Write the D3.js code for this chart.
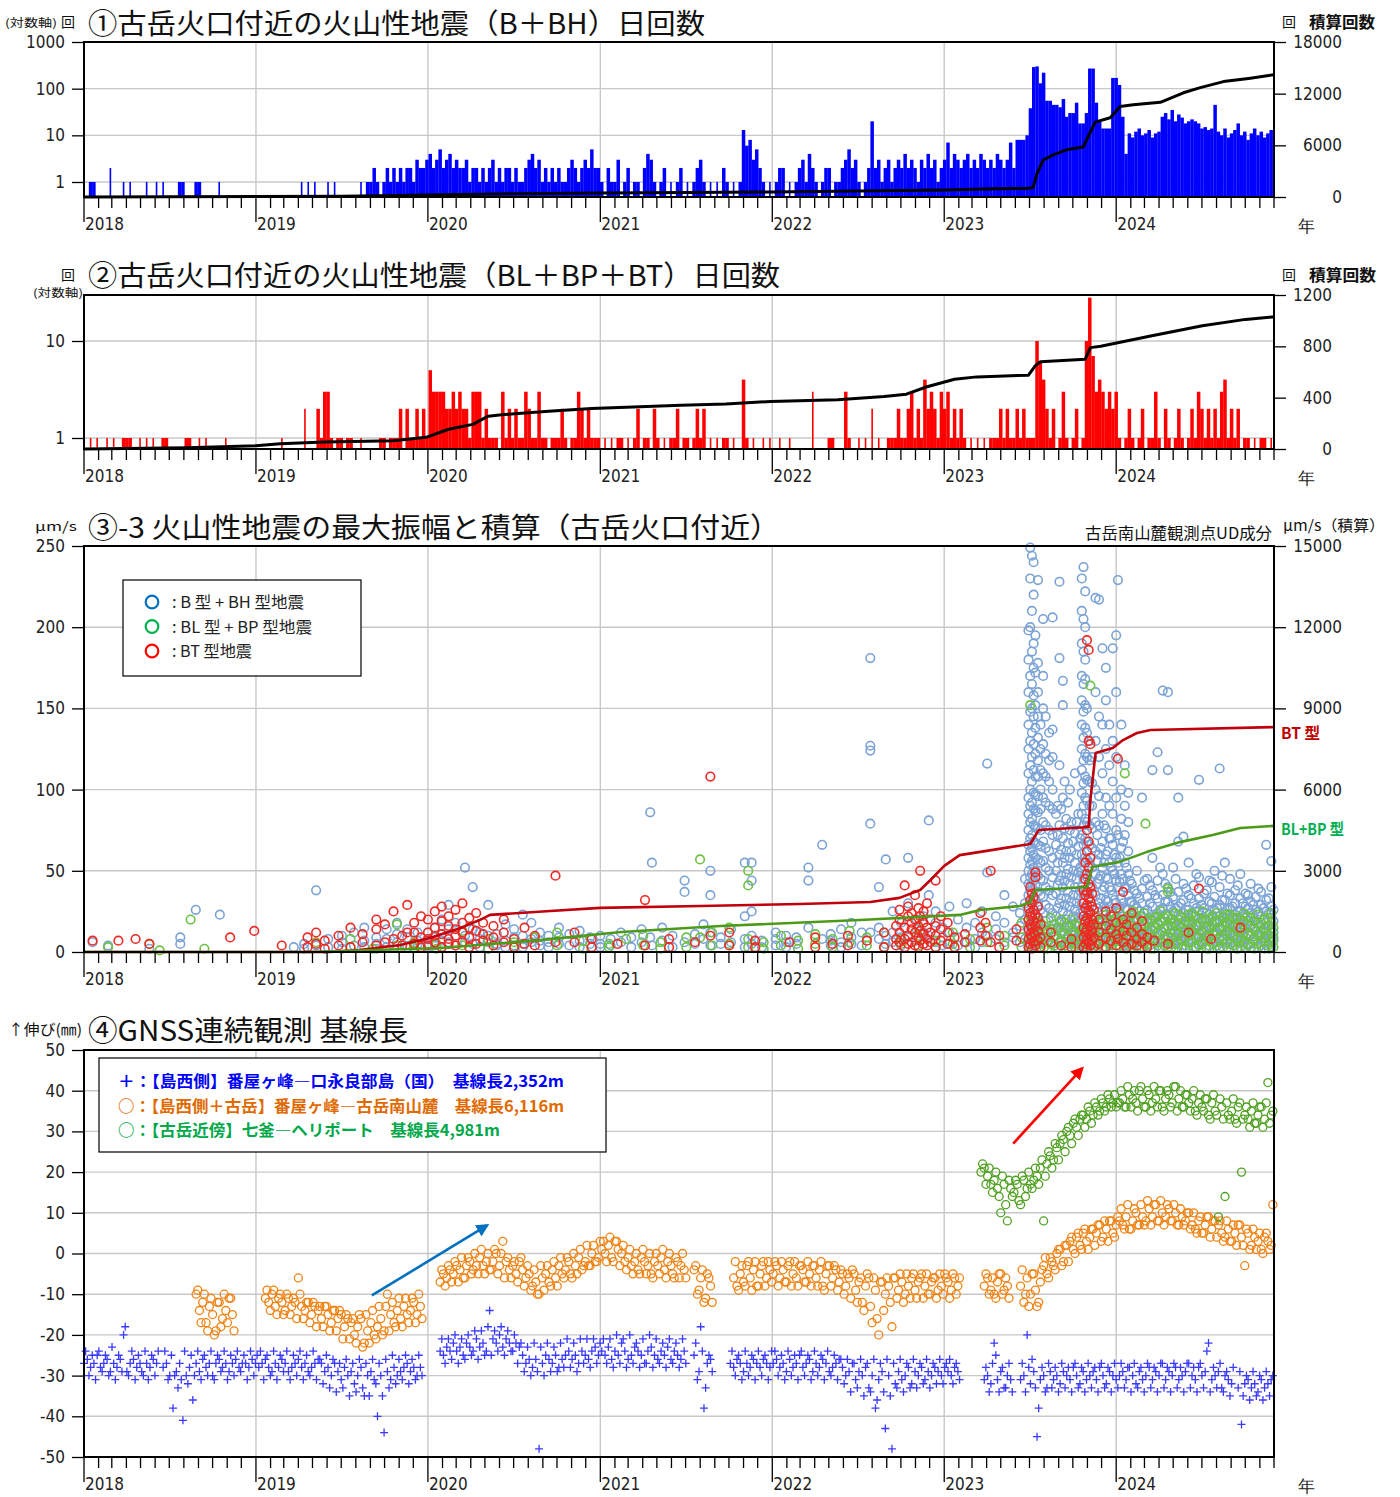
<!DOCTYPE html>
<html>
<head>
<meta charset="utf-8">
<title>古岳火口付近の火山性地震</title>
<script src="https://d3js.org/d3.v7.min.js"></script>
<style>
  body { margin: 0; background: #fff; }
  text { font-family: "Noto Sans CJK JP", sans-serif; }
  .tk, .tk text { font-family: "Liberation Sans Narrow", "DejaVu Sans Condensed", "Noto Sans", sans-serif; font-size: 17px; fill: #222; }
</style>
</head>
<body>
<div id="chart"></div>
<script>
// ---------------- data ----------------
var years = [2018, 2019, 2020, 2021, 2022, 2023, 2024];

// ① B+BH daily count (max of each week, weeks from 2018-01-01)
var bCount = [
  0,0,1,1,0,0,0,0,2,0,  0,0,1,0,1,0,0,0,0,1,  0,0,1,0,1,0,0,0,0,1,  1,0,0,0,1,1,0,0,0,0,
  0,1,0,0,0,0,0,0,0,0,  0,0,0,0,0,0,0,0,0,0,  0,0,0,0,0,0,1,0,1,0,  1,0,0,0,1,0,1,0,0,0,
  0,0,0,0,1,0,1,1,2,1,  0,1,2,1,2,1,2,1,2,2,  1,3,2,2,3,4,2,3,5,2,  3,4,2,3,2,2,3,1,2,2,
  1,2,1,2,3,1,2,1,2,2,  1,2,1,1,2,3,4,2,3,1,  2,1,2,1,2,1,1,2,3,2,  1,2,3,2,5,2,2,1,0,2,
  1,1,3,0,1,2,0,1,1,0,  2,4,3,1,0,1,2,0,1,0,  1,2,0,1,0,1,2,3,1,0,  1,0,1,0,2,1,0,1,0,1,
  13,6,8,3,5,2,1,0,1,0, 1,2,2,0,1,0,1,2,3,1,  4,2,1,0,1,2,2,0,1,1,  2,3,5,2,3,1,0,1,2,20,
  2,3,1,2,3,1,2,3,2,4,  2,3,2,1,3,2,4,2,3,1,  2,3,7,2,4,3,2,3,4,2,  3,2,4,3,2,3,2,4,3,2,
  3,7,2,8,8,8,10,38,290,300,  130,220,55,55,45,45,40,60,25,30,  30,50,18,18,30,270,270,50,20,14,
  14,14,170,170,120,25,4,11,9,12,  14,10,11,13,9,11,12,25,30,22,  35,20,28,24,18,20,22,20,18,14,
  15,13,14,45,12,10,14,9,11,13,  18,10,12,8,11,14,10,12,9,11,  13
];
// ① cumulative [decimal year, count]
var bCum = [[2018.0,0],[2019.0,50],[2019.5,100],[2020.0,230],[2020.5,380],[2021.0,460],[2021.5,520],
  [2022.0,580],[2022.5,700],[2023.0,810],[2023.3,950],[2023.48,1000],[2023.517,1100],[2023.541,2800],
  [2023.576,4300],[2023.634,4900],[2023.715,5500],[2023.808,5800],[2023.837,7000],[2023.878,8700],
  [2023.965,9200],[2024.023,10500],[2024.099,10700],[2024.256,11000],[2024.39,12100],[2024.488,12700],
  [2024.622,13400],[2024.779,13800],[2024.913,14200]];
var logTicks1 = [1, 10, 100, 1000];
var cumTicks1 = [0, 6000, 12000, 18000];

// ② BL+BP+BT daily count (max of each week)
var lCount = [
  0,0,1,0,1,0,0,1,0,1,  0,0,1,1,1,0,0,1,0,1,  0,1,0,0,1,1,0,0,0,0,  0,1,1,0,0,1,0,1,0,0,
  0,0,0,1,0,0,0,0,0,0,  0,0,0,0,0,0,0,0,0,0,  1,0,0,0,0,0,0,2,0,0,  0,2,1,3,3,1,0,1,1,0,
  1,1,0,0,1,0,0,0,0,0,  1,1,0,1,1,1,2,0,2,1,  1,2,1,2,1,5,3,3,3,3,  2,2,3,2,3,2,2,1,3,3,
  3,1,2,1,1,1,0,3,1,2,  1,2,1,1,3,2,1,1,3,1,  1,0,1,1,1,2,1,0,1,1,  3,2,1,2,1,1,1,0,1,0,
  1,0,1,1,0,1,0,1,2,0,  1,1,0,2,1,0,1,0,1,1,  2,0,1,1,0,1,2,1,2,0,  1,0,1,0,1,1,0,1,0,0,
  4,1,0,1,0,0,1,0,1,0,  0,1,0,0,1,0,0,0,0,0,  0,3,0,0,0,0,1,1,0,0,  0,3,1,0,0,1,0,1,0,2,
  0,1,0,0,1,1,1,2,1,1,  2,3,1,2,1,4,2,3,2,1,  3,2,3,1,2,1,2,1,0,1,  0,1,0,1,0,1,1,1,2,1,
  2,1,1,2,1,2,1,1,1,10, 6,4,2,1,2,0,1,3,1,0,  1,2,0,1,10,28,7,3,4,3,  2,3,2,3,1,0,1,2,1,0,
  1,2,0,1,1,3,1,0,2,1,  0,1,2,1,0,1,2,1,3,2,  1,2,1,2,1,3,4,1,2,1,  2,0,1,1,0,1,0,1,1,0,  1
];
var lCum = [[2018.0,0],[2018.6,10],[2019.0,25],[2019.14,40],[2019.4,55],[2019.8,65],[2019.99,91],
  [2020.12,154],[2020.26,192],[2020.35,256],[2020.44,268],[2020.7,294],[2020.95,315],[2021.47,340],
  [2021.73,351],[2021.99,371],[2022.38,383],[2022.65,409],[2022.78,427],[2022.9,485],[2023.06,544],
  [2023.19,562],[2023.49,575],[2023.53,650],[2023.56,680],[2023.82,700],[2023.85,790],[2023.91,800],
  [2024.2,880],[2024.5,960],[2024.75,1010],[2024.917,1030]];
var logTicks2 = [1, 10];
var cumTicks2 = [0, 400, 800, 1200];

// ③-3 maximum amplitude [decimal year, [amplitudes µm/s]]
var ampB = [
  [2018.05,[6]],[2018.14,[4]],[2018.38,[2]],[2018.56,[9,5]],[2018.65,[26]],[2018.79,[23]],
  [2019.22,[3]],[2019.28,[2,5]],[2019.35,[38,4]],[2019.42,[3,8]],[2019.5,[6,2,10]],[2019.57,[4,12]],
  [2019.63,[3,7,15]],[2019.7,[5,9,2]],[2019.76,[8,14,3]],[2019.82,[6,11,4,18]],[2019.88,[3,9,14]],[2019.94,[5,12,7]],
  [2020.0,[5,12,8,3]],[2020.04,[9,15,4]],[2020.08,[7,20,3,11]],[2020.12,[29,6,14]],[2020.16,[4,10,18]],
  [2020.215,[52,10,6]],[2020.26,[40,14,5]],[2020.3,[8,3,12]],[2020.35,[6,29,10,2]],[2020.4,[5,11,4]],
  [2020.45,[7,17,3]],[2020.5,[9,4,14]],[2020.55,[5,10,3,23]],[2020.6,[8,18,6]],[2020.65,[4,12,7]],
  [2020.7,[6,3,10]],[2020.76,[9,5,15]],[2020.82,[4,11]],[2020.88,[7,3,13]],[2020.94,[5,9]],
  [2021.0,[5,10,3]],[2021.06,[8,4]],[2021.12,[12,6]],[2021.18,[3,9]],[2021.24,[6,14]],[2021.29,[86,9]],
  [2021.3,[55,4]],[2021.36,[7,15]],[2021.42,[10,3]],[2021.49,[44,6,37]],[2021.55,[5,11]],[2021.6,[8,17]],
  [2021.64,[50,35,12,4]],[2021.7,[9,5]],[2021.76,[6,14]],[2021.84,[55,22,8,3]],[2021.88,[55,44,25,10,5]],[2021.94,[7,3]],
  [2022.02,[8,4,12]],[2022.08,[6,10,3]],[2022.14,[9,5]],[2022.21,[52,44,15]],[2022.29,[66,8]],[2022.34,[11,4,7]],
  [2022.4,[6,14,3]],[2022.46,[9,18,5]],[2022.52,[4,12]],[2022.57,[181,127,124,79,12]],[2022.62,[40,8,15]],
  [2022.66,[57,10,5]],[2022.7,[25,6,12]],[2022.75,[18,4,9]],[2022.79,[58,30,9]],[2022.84,[20,7,14]],
  [2022.88,[12,5,22]],[2022.91,[81,35,10]],[2022.95,[18,6,25]],[2022.99,[9,15,4]],
  [2023.03,[12,28,5]],[2023.08,[9,20,4]],[2023.13,[15,6,30]],[2023.18,[8,18,3]],[2023.22,[12,25,6]],
  [2023.25,[116,49,10]],[2023.3,[22,8,14]],[2023.35,[18,35,6]],[2023.4,[12,28,9]],[2023.44,[6,16,24]],[2023.47,[20,45,8,30]],
  [2023.49,[5,12,20,28,35,42,50,58,66,75,85,95,110,125,140,160,180,198]],
  [2023.50,[3,9,16,24,31,38,46,54,62,70,80,90,100,115,130,148,170,200,230,249]],
  [2023.51,[6,14,22,30,40,48,56,64,72,82,92,105,120,135,150,165,185,210,244]],
  [2023.52,[4,11,18,26,33,44,52,60,68,78,88,98,112,128,145,158,175,190,220,240]],
  [2023.53,[7,15,23,32,41,50,58,67,77,87,97,108,122,138,152,172,195]],
  [2023.545,[5,13,21,29,37,47,57,66,76,86,96,108,118,132,145,160,178,229]],
  [2023.56,[8,17,26,35,45,55,65,75,88,100,112,125,140]],
  [2023.575,[6,14,24,34,44,56,68,80,95,110,128,150,170,205]],
  [2023.59,[9,19,29,40,52,64,78,92,108,122,145]],
  [2023.61,[7,16,27,38,50,62,75,90,105,118,135]],
  [2023.63,[5,14,24,35,46,58,72,88,100,120,206,137]],
  [2023.65,[10,22,36,50,66,85]],[2023.66,[3,14,27,41,55,72,90]],[2023.67,[6,18,30,44,60,78,115,228,181]],
  [2023.68,[8,19,33,47,63,88]],[2023.69,[12,25,40,55,70,95,167,152]],[2023.70,[4,15,29,44,58,76,105]],
  [2023.71,[8,20,33,48,62,82]],[2023.72,[10,23,37,51,67,92]],[2023.73,[5,16,28,42,58,75,100]],
  [2023.74,[6,17,31,46,62,80]],[2023.75,[10,22,35,50,68]],[2023.76,[3,13,26,40,55,73,110]],
  [2023.77,[7,18,30,45,60,80]],[2023.78,[9,21,35,49,65,85]],[2023.79,[12,24,38,52,70]],
  [2023.80,[4,12,20,30,40,50,60,72,85,98,112,125,140,155,170,190,210,230]],
  [2023.81,[6,15,25,35,45,55,66,78,90,104,118,132,148,165,185,205,237]],
  [2023.82,[3,10,18,27,38,48,58,70,82,95,108,122,138,152,168,180,200,222]],
  [2023.83,[7,16,26,36,46,57,68,80,93,106,120,135,150]],
  [2023.845,[5,14,24,34,44,55,66,78,90,105,118,130]],
  [2023.86,[8,18,28,40,52,64,76,90,104,120]],
  [2023.88,[10,22,35,48,62,80,100,130,160,218]],[2023.89,[4,16,27,42,56,72]],
  [2023.90,[6,18,30,45,60,78,96,120,145,217]],[2023.91,[9,21,33,47,64]],
  [2023.92,[12,25,38,52,68,85,110,140,187]],[2023.93,[3,15,28,40,55,78]],
  [2023.94,[8,20,32,46,60,76,95,125,155,175]],[2023.95,[7,19,31,45,62]],
  [2023.96,[5,15,28,40,55,70,90,115,140]],[2023.97,[4,13,25,38,52,70]],
  [2023.98,[10,22,35,50,66,85,105,130,187]],[2023.99,[9,20,32,48,60]],
  [2024.0,[7,18,30,44,58,75,95,120,160,195]],[2024.01,[12,26,40,55,72,229]],[2024.02,[3,15,27,43,58]],
  [2024.03,[8,20,33,48,64,82,100,140]],[2024.04,[7,18,30,45,68]],[2024.05,[5,15,27,40,55,72,90,115]],
  [2024.06,[4,14,26,39,52]],[2024.07,[10,22,35,48,62,80,98]],[2024.08,[8,19,31,44]],
  [2024.09,[4,10,16,23,31,42]],[2024.105,[8,14,21,29,38]],[2024.12,[6,12,19,27,36,50]],[2024.135,[2,7,13,25,33]],
  [2024.15,[3,9,15,22,30,39,95]],[2024.165,[9,17,24,44]],[2024.18,[5,11,18,26,34,45]],[2024.195,[4,12,20,30,41]],
  [2024.21,[7,13,20,28,38,58,112]],[2024.225,[6,15,22,35]],[2024.24,[4,10,17,24,33,44,123]],[2024.255,[3,11,19,26,52]],
  [2024.27,[6,12,19,27,35,48,161]],[2024.285,[8,14,23,31,42]],[2024.30,[3,9,16,23,31,40,112,160]],[2024.315,[5,12,20,28,37]],
  [2024.33,[5,11,18,25,34,52]],[2024.345,[2,9,16,27,45]],[2024.36,[7,13,20,28,37,95,68]],[2024.375,[7,15,22,30]],
  [2024.39,[4,10,17,24,32,42,71]],[2024.405,[4,11,18,26,39]],[2024.42,[6,12,19,26,35,55]],[2024.435,[8,14,23,33]],
  [2024.45,[3,9,15,22,30,41]],[2024.465,[3,10,17,27,48]],[2024.48,[5,11,18,25,33,106,46]],[2024.495,[6,13,21,29]],
  [2024.51,[7,13,20,27,36]],[2024.525,[2,9,16,24,38]],[2024.54,[4,10,16,23,31,44]],[2024.555,[7,15,22,30,43]],
  [2024.57,[6,12,19,26,34,50]],[2024.585,[4,11,19,27]],[2024.60,[3,9,15,22,29,113,40]],[2024.615,[8,14,21,32,47]],
  [2024.63,[5,11,17,24,32,55]],[2024.645,[3,10,18,26,36]],[2024.66,[7,13,20,27,35,45]],[2024.675,[6,12,20,28]],
  [2024.69,[4,10,16,23,30,38]],[2024.705,[2,9,17,25,41]],[2024.72,[6,12,18,25,33,48]],[2024.735,[7,14,22,30]],
  [2024.75,[3,9,15,21,28,36]],[2024.765,[4,11,19,27,35]],[2024.78,[5,11,17,24,31,42]],[2024.795,[8,15,23,29]],
  [2024.81,[7,13,19,26,34]],[2024.825,[3,10,17,25,39]],[2024.84,[4,10,16,22,29,37]],[2024.855,[6,13,20,27]],
  [2024.87,[6,12,18,25,66,32]],[2024.885,[2,8,16,24,33]],[2024.90,[3,9,15,21,28,40,56]],[2024.912,[7,12,19,26]]
];
var ampL = [
  [2018.14,[3]],[2018.38,[5]],[2018.44,[1]],[2018.62,[20]],[2018.7,[2]],
  [2019.35,[6]],[2019.55,[3,8]],[2019.68,[2]],[2019.82,[17,4]],[2019.92,[3,6]],
  [2020.05,[2,5]],[2020.2,[13,4]],[2020.35,[8,2]],[2020.5,[3,6]],[2020.62,[9]],[2020.75,[4,12]],[2020.9,[2,7]],
  [2021.05,[5,3]],[2021.15,[8]],[2021.25,[4,10]],[2021.35,[6,2]],[2021.5,[9,3]],[2021.58,[57,9]],
  [2021.65,[12,4]],[2021.75,[5,15]],[2021.86,[41,50,8,3]],[2021.95,[6,2]],
  [2022.05,[4,10]],[2022.15,[7,2]],[2022.25,[11,5]],[2022.35,[3,8]],[2022.45,[6,13]],[2022.55,[4,9]],
  [2022.65,[12,3]],[2022.75,[5,8]],[2022.85,[10,4,15]],[2022.95,[7,3]],
  [2023.05,[5,12]],[2023.15,[8,3]],[2023.25,[15,6]],[2023.35,[4,10]],[2023.45,[9,18,3]],
  [2023.5,[152,22]],[2023.85,[164]],[2024.05,[110]],[2024.17,[79]],[2024.3,[39,37]],
  [2023.52,[3,8,14]],[2023.54,[6,12,19]],[2023.56,[5,11,18]],[2023.58,[3,9,16]],[2023.60,[2,7,13]],
  [2023.62,[5,14,21]],[2023.64,[4,10,17]],[2023.66,[2,8,15]],[2023.68,[6,12,20]],[2023.70,[4,11,18]],
  [2023.72,[3,9,16]],[2023.74,[7,13,20]],[2023.76,[5,11,17]],[2023.78,[3,10,16]],[2023.80,[2,8,13]],
  [2023.82,[5,12,19]],[2023.84,[6,12,19]],[2023.86,[2,9,17]],[2023.88,[4,10,15,22]],[2023.90,[6,13,19]],
  [2023.92,[3,9,14,20]],[2023.94,[3,8,16,23]],[2023.96,[5,12,17]],[2023.98,[5,12,19]],[2024.00,[2,8,14,21]],
  [2024.02,[4,10,17,24]],[2024.04,[6,11,18]],[2024.06,[2,9,15,21]],[2024.08,[4,10,16,23]],[2024.10,[6,12,19,25]],
  [2024.12,[3,8,15,20]],[2024.14,[3,10,16,22]],[2024.16,[5,11,17,24]],[2024.18,[5,13,20]],[2024.20,[2,9,14,19]],
  [2024.22,[2,8,15,21]],[2024.24,[6,12,18,22]],[2024.26,[6,13,19,25]],[2024.28,[4,10,15,21]],[2024.30,[3,9,16,22]],
  [2024.32,[3,9,16,20]],[2024.34,[5,12,18,24]],[2024.36,[5,11,17,23]],[2024.38,[2,8,15,21]],[2024.40,[2,8,13,19]],
  [2024.42,[6,11,17,23]],[2024.44,[6,12,18,24]],[2024.46,[3,10,16,22]],[2024.48,[4,9,16,21]],[2024.50,[5,12,19,25]],
  [2024.52,[3,10,15,20]],[2024.54,[2,9,14,20]],[2024.56,[5,11,17,22]],[2024.58,[6,13,19,24]],[2024.60,[2,8,14,19]],
  [2024.62,[3,10,16,22]],[2024.64,[6,13,18,23]],[2024.66,[5,11,17,23]],[2024.68,[4,10,16,21]],[2024.70,[2,8,15,21]],
  [2024.72,[3,9,15,20]],[2024.74,[6,12,19,24]],[2024.76,[5,11,17,22]],[2024.78,[3,10,16,21]],[2024.80,[2,8,14,19]],
  [2024.82,[5,11,18,23]],[2024.84,[6,12,18]],[2024.86,[2,9,15,20]],[2024.88,[4,10,16,21]],[2024.90,[6,12,18,24]],[2024.912,[3,9,15]]
];
var ampT = [
  [2018.05,[7]],[2018.2,[7]],[2018.3,[8]],[2018.38,[5]],[2018.85,[9]],[2018.99,[13]],[2019.15,[4]],
  [2019.3,[3,9]],[2019.35,[12,5]],[2019.4,[7,2]],[2019.48,[10,4]],[2019.55,[3,15]],[2019.62,[6,11]],
  [2019.7,[14,4,20]],[2019.75,[17,6]],[2019.8,[8,25]],[2019.85,[10,4]],[2019.88,[29,12]],[2019.92,[5,18,12]],[2019.96,[9,22,3]],
  [2020.0,[4,12,20,8]],[2020.04,[15,6,25,10]],[2020.08,[3,11,19,28]],[2020.12,[8,16,5,22]],[2020.16,[10,26,4,14]],
  [2020.2,[6,18,12,30]],[2020.24,[9,3,21,15]],[2020.28,[5,13,24]],[2020.32,[11,7,18]],[2020.38,[4,16,9]],
  [2020.44,[12,6,20]],[2020.5,[8,3]],[2020.56,[15,5]],[2020.62,[10,4]],[2020.74,[47,6]],[2020.85,[6,12]],[2020.95,[3,8]],
  [2021.1,[5]],[2021.26,[32,4]],[2021.4,[8,3]],[2021.55,[6]],[2021.64,[108,10]],[2021.75,[4,12]],[2021.9,[7,3]],
  [2022.1,[6]],[2022.25,[9,3]],[2022.35,[5]],[2022.44,[10,4]],[2022.55,[7]],[2022.65,[12,3]],
  [2022.72,[8,16,4]],[2022.74,[12,20,6,26]],[2022.77,[41,15,8,3]],[2022.79,[22,10,28,5]],[2022.81,[14,6,18,24]],
  [2022.83,[35,12,4,20]],[2022.85,[9,16,27,3]],[2022.86,[50,13,7,22]],[2022.88,[18,5,25,11]],[2022.9,[8,15,30,4]],
  [2022.92,[12,20,6]],[2022.95,[44,10,16,3]],[2022.98,[7,14,22]],[2023.02,[5,12,18]],[2023.06,[9,3]],
  [2023.12,[6,11]],[2023.21,[7,15,24]],[2023.24,[10,18]],[2023.27,[50,6]],[2023.32,[10,3]],[2023.42,[7,14]],
  [2023.49,[3,8,14,20,27]],[2023.5,[5,11,17,24,32,40]],[2023.51,[2,9,15,22,30,36]],[2023.52,[6,12,19,26,34]],
  [2023.53,[4,10,16,23,49,46]],[2023.545,[7,13,21,28]],[2023.56,[3,9,17]],
  [2023.62,[6,12]],[2023.68,[4]],[2023.74,[8,3]],
  [2023.81,[3,9,15,22,30,38]],[2023.82,[5,12,19,27,35,45,55]],[2023.83,[2,8,14,21,29,37,48,62,75,192]],
  [2023.84,[6,11,18,25,33,42,52,68,130,186]],[2023.85,[4,10,16,24,31,40,58,128]],[2023.86,[7,13,20,28,36]],[2023.87,[3,9,17,26]],
  [2023.9,[5,12,20]],[2023.94,[3,9,16,25]],[2023.97,[7,14,22]],[2024.0,[4,11,18,27]],[2024.01,[119,8]],
  [2024.04,[6,13,20,37]],[2024.06,[3,10,17]],[2024.09,[5,12,24]],[2024.12,[8,15,4]],[2024.15,[6,11,19]],
  [2024.18,[3,9]],[2024.22,[7]],[2024.3,[5]],[2024.42,[12]],[2024.48,[39]],[2024.55,[8]],[2024.72,[15]]
];
// ③-3 cumulative amplitude [decimal year, µm/s]
var cumT = [[2018.0,0],[2019.43,0],[2019.6,74],[2019.84,260],[2020.01,520],[2020.19,890],[2020.3,1180],
  [2020.36,1370],[2020.71,1515],[2021.0,1630],[2021.58,1700],[2022.16,1775],[2022.57,1850],[2022.74,2000],
  [2022.86,2290],[2022.92,2660],[2023.0,3180],[2023.09,3580],[2023.21,3700],[2023.5,3990],[2023.55,4510],
  [2023.84,4620],[2023.85,5620],[2023.88,7350],[2023.98,7540],[2024.04,7830],[2024.12,8090],[2024.2,8200],[2024.917,8310]];
var cumL = [[2018.0,0],[2019.31,0],[2020.07,150],[2020.65,440],[2021.12,740],[2021.7,960],[2022.51,1180],
  [2023.09,1370],[2023.21,1550],[2023.44,1700],[2023.5,1850],[2023.53,2290],[2023.83,2400],[2023.86,3140],
  [2024.02,3330],[2024.18,3700],[2024.37,4060],[2024.56,4320],[2024.72,4580],[2024.917,4660]];
var ampTicks = [0, 50, 100, 150, 200, 250];
var ampCumTicks = [0, 3000, 6000, 9000, 12000, 15000];

// ④ GNSS baseline change (mm), two readings per week: [first week index, values]
var gnssBlue = [
  [0, [-27,-26,-28,-27,-25,-28,-27,-26,-29,-27,-28,-26,-20,-29,-27,-26,-28,-27,-30,-27,-28,-26,-27]],
  [24, [-28,-27,-30,-38,-29,-27,-41,-30,-28,-36,-27,-29,-26,-28,-27,-30,-27,-26,-28,-27,-29,-27,-26,-28,-27,-27,-28,-26,-27]],
  [53, [-28,-27,-26,-28,-29,-27,-28,-26,-27,-29,-28,-27,-26,-28,-27,-29,-28,-27,-26,-27,-29,-28,-30,-27,-29,
        -31,-28,-30,-29,-32,-30,-28,-35,-30,-29,-31,-40,-30,-44,-29,-31,-28,-30,-29,-28,-27,-29,-28,-30,-28]],
  [108, [-24,-25,-23,-24,-22,-24,-23,-25,-22,-23,-24,-21,-23,-22,-24,-14,-21,-22,-20,-23,-21,-22,-24,-22,-23,
         -25,-27,-26,-28,-26,-48,-27,-25,-26,-27,-25,-28,-26,-25,-24,-26,-25,-27,-24,-25,-26,-24,-23,-25]],
  [157, [-24,-25,-23,-26,-24,-25,-22,-24,-26,-25,-23,-24,-25,-27,-24,-23,-25,-26,-24,-25,-23,-26,-24,-25,-26,-24]],
  [185, [-25,-31,-18,-38,-27,-26]],
  [196, [-27,-28,-26,-27,-29,-27,-28,-26,-27,-28,-26,-27,-28]],
  [209, [-27,-26,-28,-27,-29,-26,-28,-27,-25,-28,-27,-26,-29,-27,-28,-26,-27,-29,-28,-27,-26,-28,-30,-29,-27,
         -31,-29,-30,-28,-33,-30,-38,-31,-29,-43,-30,-48,-32,-29,-31,-30,-28,-32,-29,-30,-28,-31,-29,-30,-28,-29,-30,-28]],
  [262, [-29,-30,-28,-29]],
  [273, [-31,-30,-32,-22,-31,-29,-33,-30,-31]],
  [284, [-31,-30,-20,-32,-29,-45,-31,-30,-33,-29,-31,-30,-32,-29,-30,-31,-28,-30,-32,-29,-31,-30,-29,-31,-28,-30,-32,-29,-30,-31]],
  [314, [-30,-29,-31,-28,-30,-32,-29,-31,-30,-28,-31,-29,-30,-27,-31,-29,-30,-28,-31,-30,-29,-27,-30,-31,-28,
         -30,-29,-22,-31,-30,-29,-33,-30,-31,-32]],
  [350, [-33,-42,-32,-31,-33,-32,-34,-31,-33,-32,-31]]
];
var gnssBlueMid = [
  [0, [-24,-30,-25,-31,-24,-29,-25,-30,-23,-31,-25,-29,-18,-30,-24,-31,-25,-29,-24,-31,-25,-30,-24]],
  [24, [-24,-31,-25,-30,-33,-31,-24,-32,-25,-30,-24,-31,-25,-30,-24,-31,-25,-29,-24,-31,-25,-30,-24,-29,-25,-31,-24,-30,-25]],
  [53, [-24,-31,-25,-30,-24,-31,-25,-29,-24,-31,-25,-30,-24,-31,-25,-30,-24,-31,-26,-32,-25,-33,-26,-34,-27,
        -33,-26,-35,-27,-34,-26,-33,-27,-35,-26,-32,-27,-35,-26,-33,-25,-32,-26,-31,-25,-32,-26,-31,-25,-30]],
  [108, [-21,-27,-21,-26,-20,-27,-21,-26,-20,-25,-19,-26,-19,-25,-18,-25,-19,-24,-18,-25,-19,-24,-20,-27,-22,
         -29,-23,-30,-22,-29,-23,-30,-22,-29,-23,-29,-22,-28,-21,-28,-22,-29,-21,-27,-21,-28,-21,-27,-22]],
  [157, [-21,-27,-21,-28,-20,-27,-21,-28,-20,-27,-22,-28,-21,-27,-20,-28,-21,-27,-22,-28,-21,-27,-22,-28,-21,-27]],
  [185, [-22,-29,-24,-33,-25,-29]],
  [196, [-24,-30,-25,-31,-24,-30,-25,-31,-24,-30,-25,-31,-24]],
  [209, [-24,-30,-25,-31,-24,-30,-25,-31,-24,-30,-25,-31,-24,-30,-25,-31,-24,-30,-25,-31,-26,-32,-26,-34,-27,
         -33,-26,-35,-27,-34,-26,-36,-27,-34,-26,-35,-27,-33,-26,-34,-27,-33,-26,-33,-27,-32,-26,-33,-27,-32,-26,-32,-27]],
  [262, [-26,-32,-27,-31]],
  [273, [-28,-34,-27,-25,-34,-28,-33,-27,-34]],
  [284, [-27,-34,-28,-26,-33,-38,-28,-34,-27,-33,-28,-34,-27,-33,-28,-34,-27,-33,-28,-34,-27,-33,-28,-34,-27,-33,-28,-34,-27,-33]],
  [314, [-27,-33,-28,-34,-27,-33,-28,-34,-27,-33,-28,-34,-27,-33,-28,-34,-27,-33,-28,-34,-27,-33,-28,-34,-27,
         -33,-24,-34,-28,-33,-27,-34,-29,-35,-28]],
  [350, [-29,-35,-30,-36,-29,-35,-30,-36,-29,-35,-30]]
];
var gnssOrange = [
  [34, [-10,-14,-12,-17,-13,-15,-19,-12,-16,-14,-11,-15]],
  [55, [-11,-12,-10,-13,-11,-12,-14,-11,-13,-12,-6,-13,-14,-12,-15,-13,-14,-16,-13,-15,-17,-14,-16,-15,-18,
        -16,-17,-20,-18,-16,-22,-19,-17,-20,-18,-16,-19,-10,-15,-17,-14,-16,-13,-15,-14,-12,-15,-13]],
  [108, [-7,-5,-6,-4,-5,-3,-4,-6,-3,-2,-4,-3,-1,-3,-2,-4,-2,0,-3,3,-2,-4,-3,-5,-2,-4,-6,-5,-8,-7,
         -10,-6,-5,-7,-4,-6,-3,-5,-4,-2,-6,-3,-1,-4,-2,-3,0,-2,-1]],
  [157, [1,0,2,-1,3,1,0,-2,-1,-3,-2,-4,-1,-2,-3,-5,-2,-3,-1,-4,-2,-3,-6,-2,-3,-4]],
  [185, [-4,-10,-6,-12,-5,-8]],
  [197, [-6,-8,-5,-7,-3,-6,-4,-8,-5,-2,-6,-4]],
  [209, [-5,-3,-6,-4,-7,-2,-5,-6,-3,-4,-7,-5,-3,-6,-4,-8,-5,-3,-6,-4,-7,-5,-8,-6,-4,-9,-7,-12,-8,-6,
         -17,-9,-20,-7,-10,-8,-18,-6,-9,-7,-10,-8,-6,-9,-7,-5,-8,-10,-7,-6,-9,-8,-5,-7,-9,-6,-8]],
  [273, [-8,-6,-9,-10,-7,-5,-9,-8]],
  [284, [-8,-12,-6,-10,-5,-13,-7]],
  [291, [-3,-5,-1,-3,0,1,-2,2,3,1,4,2,5,3,4,6,5,7,4,6,8,5,7]],
  [314, [8,7,9,6,8,10,7,9,8,11,9,12,8,10,9,11,8,10,7,9,8,10,7,6,8,5,7,9,6,8,7,5,4,6,3,5,7,4,-3,5,2,4,3,1,4,3,2]]
];
var gnssOrangeMid = [
  [34, [-9,-17,-10,-19,-11,-20,-12,-18,-10,-17,-11,-19]],
  [55, [-9,-14,-9,-15,-10,-15,-10,-15,-11,-16,-10,-16,-12,-17,-12,-18,-13,-18,-13,-19,-14,-19,-14,-21,-15,
        -21,-16,-22,-15,-23,-15,-22,-14,-21,-13,-20,-13,-19,-12,-18,-11,-18,-11,-17,-11,-17,-10,-16]],
  [108, [-4,-8,-3,-7,-2,-7,-1,-6,-1,-5,0,-5,1,-5,0,-4,1,-5,0,-6,-1,-6,-2,-7,-1,-8,-3,-9,-4,-10,
         -3,-9,-3,-8,-2,-8,-1,-6,-1,-5,0,-5,1,-3,2,-3,2,-2,3]],
  [157, [3,-2,4,-2,3,-3,2,-4,1,-5,0,-5,1,-5,0,-6,0,-5,1,-6,0,-5,-1,-6,0,-6]],
  [185, [-3,-9,-4,-11,-6,-12]],
  [197, [-2,-9,-3,-8,-2,-9,-2,-8,-3,-8,-2,-7]],
  [209, [-2,-8,-2,-7,-3,-8,-2,-8,-3,-7,-2,-8,-3,-8,-2,-9,-3,-8,-3,-9,-4,-10,-5,-11,-5,-12,-6,-14,-5,-13,
         -6,-16,-7,-14,-6,-12,-6,-11,-5,-12,-5,-11,-5,-11,-6,-11,-5,-10,-6,-11,-5,-10,-6,-11,-5,-10,-6]],
  [273, [-5,-10,-6,-11,-5,-10,-6,-11]],
  [284, [-4,-10,-13,-5,-9,-12,-4]],
  [291, [-1,-6,-2,-4,1,-3,2,-2,4,0,5,1,6,1,6,2,7,3,8,3,8,4,9]],
  [314, [11,6,12,6,11,7,12,7,13,7,12,8,13,7,12,8,12,7,11,7,10,6,10,5,9,5,9,4,8,4,8,3,8,3,7,2,7,2,6,1,6,1,5,0,5,1,12]]
];
var gnssGreen = [
  [272, [20,21,19,17,18,16,10,17,8,16]],
  [282, [15,17,12,18,16,17]],
  [288, [18,19,21,8,22,24,23,26,27,28,30,29,32,31,33,34,33,35,34,36,35,37,36,38,37,36]],
  [314, [37,38,36,39,38,37,40,38,36,39,37,38,40,36,38,39,37,41,38,36,39,37,38,35,37,36,38,34,37,35,
         9,36,14,34,35,33,36,20,34,33,35,32,34,36,33,42,34]]
];
var gnssGreenMid = [
  [272, [22,17,21,15,20,14,19,12,18,14]],
  [282, [18,13,19,14,20,16]],
  [288, [21,17,23,19,25,21,27,23,29,25,31,27,33,29,34,31,36,32,37,34,38,35,39,36,39,37]],
  [314, [40,36,41,36,40,35,41,36,40,35,41,36,40,35,40,36,41,35,40,36,39,35,40,34,39,35,38,33,39,34,
         38,33,37,33,38,32,37,33,36,31,37,32,36,31,37,32,35]]
];
var gnssTicks = [-50, -40, -30, -20, -10, 0, 10, 20, 30, 40, 50];
// arrows on panel 4: [from year, from mm, to year, to mm, colour]
var arrowsGnss = [[2019.674, -10.3, 2020.343, 6.9, "#0070c0"], [2023.401, 27.0, 2023.802, 45.5, "#ff0000"]];

// ---------------- layout ----------------
var width = 1400, height = 1497;
var left = 84, right = 1274;
var p1 = {top: 42, bottom: 197}, p2 = {top: 295, bottom: 449}, p3 = {top: 546, bottom: 952}, p4 = {top: 1050, bottom: 1457};

var svg = d3.select("#chart").append("svg")
    .attr("width", width)
    .attr("height", height)
    .style("background", "#fff");

var start = new Date(2018, 0, 1);
var x = d3.scaleTime().domain([start, new Date(2024, 11, 1)]).range([left, right]);

function yd(v) {
  var y = Math.floor(v), a = new Date(y, 0, 1), b = new Date(y + 1, 0, 1);
  return new Date(+a + (v - y) * (b - a));
}
function wk(i) { return d3.timeDay.offset(start, 7 * i); }
function flatSeg(segs, offsetHours) {
  var out = [];
  segs.forEach(function(s) {
    s[1].forEach(function(v, k) { out.push({d: d3.timeHour.offset(wk(s[0] + k), offsetHours || 0), v: v}); });
  });
  return out;
}
function flatPts(list) {
  var out = [];
  list.forEach(function(c) { c[1].forEach(function(v) { out.push({d: yd(c[0]), v: v}); }); });
  return out;
}

function vgrid(p) {
  svg.append("g").selectAll("line")
    .data(years.slice(1).map(function(y) { return new Date(y, 0, 1); }))
    .enter().append("line")
    .attr("x1", function(d) { return x(d); }).attr("x2", function(d) { return x(d); })
    .attr("y1", p.top).attr("y2", p.bottom)
    .attr("stroke", "#c8c8c8").attr("stroke-width", 1.4);
}
function hgrid(p, scale, ticks) {
  svg.append("g").selectAll("line").data(ticks).enter().append("line")
    .attr("x1", left).attr("x2", right)
    .attr("y1", function(d) { return scale(d); }).attr("y2", function(d) { return scale(d); })
    .attr("stroke", "#c8c8c8").attr("stroke-width", 1.4);
}
function frame(p) {
  svg.append("rect")
    .attr("x", left).attr("y", p.top).attr("width", right - left).attr("height", p.bottom - p.top)
    .attr("fill", "none").attr("stroke", "#000").attr("stroke-width", 2);
}
function styleAxis(g) {
  g.attr("font-family", null).attr("font-size", null).attr("class", "tk");
  g.select(".domain").remove();
  g.selectAll(".tick line").attr("stroke", "#000").attr("stroke-width", 1.3);
}
function leftAxis(scale, ticks) {
  var g = svg.append("g").attr("transform", "translate(" + left + ",0)")
    .call(d3.axisLeft(scale).tickValues(ticks).tickSize(12).tickPadding(7).tickFormat(function(d) { return String(d); }));
  styleAxis(g);
}
function rightAxis(scale, ticks, labelEnd) {
  var g = svg.append("g").attr("transform", "translate(" + right + ",0)")
    .call(d3.axisRight(scale).tickValues(ticks).tickSize(12).tickFormat(function(d) { return String(d); }));
  styleAxis(g);
  g.selectAll(".tick text").attr("x", labelEnd).attr("text-anchor", "end");
}
function xAxis(p) {
  var g = svg.append("g");
  var months = d3.timeMonth.range(start, new Date(2024, 11, 2));
  g.selectAll("line").data(months).enter().append("line")
    .attr("x1", function(d) { return x(d); }).attr("x2", function(d) { return x(d); })
    .attr("y1", p.bottom).attr("y2", function(d) { return p.bottom + (d.getMonth() === 0 ? 25 : 11); })
    .attr("stroke", "#000").attr("stroke-width", 1.3);
  g.selectAll("text").data(years).enter().append("text")
    .attr("class", "tk")
    .attr("x", function(y) { return x(new Date(y, 0, 1)) + 1; })
    .attr("y", p.bottom + 33)
    .text(function(y) { return y; });
  g.append("text").attr("class", "tk").attr("x", 1298).attr("y", p.bottom + 35).text("年");
}
function title(txt, yb, len) {
  svg.append("text").attr("x", 88).attr("y", yb).attr("font-size", 28)
    .attr("textLength", len).attr("lengthAdjust", "spacingAndGlyphs")
    .attr("fill", "#111").text(txt);
}
function small(txt, xx, yy, size, opts) {
  var t = svg.append("text").attr("x", xx).attr("y", yy).attr("font-size", size).attr("fill", "#111").text(txt);
  if (opts && opts.bold) t.attr("font-weight", "bold");
  if (opts && opts.len) t.attr("textLength", opts.len).attr("lengthAdjust", "spacingAndGlyphs");
  if (opts && opts.color) t.attr("fill", opts.color);
  return t;
}
function cumLine(data, scale, color, w) {
  svg.append("path").datum(data)
    .attr("fill", "none").attr("stroke", color).attr("stroke-width", w)
    .attr("stroke-linejoin", "round")
    .attr("d", d3.line()
      .x(function(d) { return x(yd(d[0])); })
      .y(function(d) { return scale(d[1]); }));
}
function bars(data, scale, p, color) {
  var step = x(wk(1)) - x(wk(0));
  svg.append("g").selectAll("rect")
    .data(data.map(function(v, i) {
      var lone = !(data[i - 1] > 0) && !(data[i + 1] > 0);
      return {d: wk(i), v: v, w: lone ? 1.6 : step + 0.2};
    }).filter(function(d) { return d.v > 0; }))
    .enter().append("rect")
    .attr("x", function(d) { return x(d.d) - d.w / 2; })
    .attr("width", function(d) { return d.w; })
    .attr("y", function(d) { return scale(d.v); })
    .attr("height", function(d) { return p.bottom - scale(d.v); })
    .attr("fill", color);
}

// ---------------- ① ----------------
var y1 = d3.scaleLog().domain([1, 1000]).range([p1.bottom - 15, p1.top]);
var y1c = d3.scaleLinear().domain([0, 18000]).range([p1.bottom, p1.top]);
vgrid(p1);
hgrid(p1, y1, [1, 10, 100]);
bars(bCount, y1, p1, "#0000ff");
cumLine(bCum, y1c, "#000", 3);
frame(p1);
leftAxis(y1, logTicks1);
rightAxis(y1c, cumTicks1, 68);
xAxis(p1);
title("①古岳火口付近の火山性地震（B＋BH）日回数", 34, 617);
small("(対数軸)", 5, 27, 11, {len: 52});
small("回", 61, 27, 14);
small("回", 1282, 27, 14);
small("積算回数", 1309, 28, 16, {bold: true, len: 66});

// ---------------- ② ----------------
var y2 = d3.scaleLog().domain([1, 10]).range([p2.bottom - 11, p2.bottom - 108]);
var y2c = d3.scaleLinear().domain([0, 1200]).range([p2.bottom, p2.top]);
vgrid(p2);
hgrid(p2, y2, [1, 10]);
bars(lCount, y2, p2, "#ff0000");
cumLine(lCum, y2c, "#000", 3);
frame(p2);
leftAxis(y2, logTicks2);
rightAxis(y2c, cumTicks2, 58);
xAxis(p2);
title("②古岳火口付近の火山性地震（BL＋BP＋BT）日回数", 286, 692);
small("回", 61, 280, 14);
small("(対数軸)", 33, 297, 11, {len: 50});
small("回", 1282, 280, 14);
small("積算回数", 1309, 281, 16, {bold: true, len: 67});

// ---------------- ③-3 ----------------
var y3 = d3.scaleLinear().domain([0, 250]).range([p3.bottom, p3.top]);
var y3c = d3.scaleLinear().domain([0, 15000]).range([p3.bottom, p3.top]);
vgrid(p3);
hgrid(p3, y3, [50, 100, 150, 200]);
function scatter(list, color) {
  svg.append("g").selectAll("circle").data(flatPts(list)).enter().append("circle")
    .attr("cx", function(d) { return x(d.d); })
    .attr("cy", function(d) { return y3(d.v); })
    .attr("r", 4.3)
    .attr("fill", "none").attr("stroke", color).attr("stroke-width", 1.6);
}
scatter(ampB, "#7ba3d6");
scatter(ampL, "#6cc244");
scatter(ampT, "#ee2a24");
cumLine(cumT, y3c, "#c0000c", 2.6);
cumLine(cumL, y3c, "#4c9a18", 2.6);
frame(p3);
leftAxis(y3, ampTicks);
rightAxis(y3c, ampCumTicks, 68);
xAxis(p3);
title("③-3 火山性地震の最大振幅と積算（古岳火口付近）", 538, 692);
small("μm/s", 35, 531, 13, {len: 42});
small("古岳南山麓観測点UD成分", 1085, 539, 16, {len: 187});
small("μm/s（積算）", 1283, 531, 15, {len: 102});
small("BT 型", 1281, 739, 16, {bold: true, color: "#c00000", len: 39});
small("BL+BP 型", 1281, 835, 16, {bold: true, color: "#00b050", len: 63});

// legend ③
var lg3 = svg.append("g");
lg3.append("rect").attr("x", 123).attr("y", 580).attr("width", 238).attr("height", 96)
  .attr("fill", "#fff").attr("stroke", "#000").attr("stroke-width", 1.2);
[["#0070c0", ": B 型 + BH 型地震", 132], ["#00b050", ": BL 型 + BP 型地震", 140], ["#ff0000", ": BT 型地震", 80]]
  .forEach(function(r, k) {
    var yy = 602 + k * 24.5;
    lg3.append("circle").attr("cx", 152).attr("cy", yy).attr("r", 6.3)
      .attr("fill", "none").attr("stroke", r[0]).attr("stroke-width", 2.2);
    lg3.append("text").attr("x", 172).attr("y", yy + 6).attr("font-size", 16).attr("fill", "#222")
      .attr("textLength", r[2]).attr("lengthAdjust", "spacingAndGlyphs").text(r[1]);
  });

// ---------------- ④ ----------------
var y4 = d3.scaleLinear().domain([-50, 50]).range([p4.bottom, p4.top]);
vgrid(p4);
hgrid(p4, y4, gnssTicks.slice(1, -1));
var bluePts = flatSeg(gnssBlue, 0).concat(flatSeg(gnssBlueMid, 84));
var orangePts = flatSeg(gnssOrange, 0).concat(flatSeg(gnssOrangeMid, 84));
var greenPts = flatSeg(gnssGreen, 0).concat(flatSeg(gnssGreenMid, 84));
svg.append("g").selectAll("path").data(bluePts).enter().append("path")
  .attr("transform", function(d) { return "translate(" + x(d.d) + "," + y4(d.v) + ")"; })
  .attr("d", "M-4,0H4M0,-4V4")
  .attr("stroke", "#3a3aff").attr("stroke-width", 1.3).attr("fill", "none");
svg.append("g").selectAll("circle").data(orangePts).enter().append("circle")
  .attr("cx", function(d) { return x(d.d); }).attr("cy", function(d) { return y4(d.v); })
  .attr("r", 4).attr("fill", "none").attr("stroke", "#f08314").attr("stroke-width", 1.3);
svg.append("g").selectAll("circle").data(greenPts).enter().append("circle")
  .attr("cx", function(d) { return x(d.d); }).attr("cy", function(d) { return y4(d.v); })
  .attr("r", 4).attr("fill", "none").attr("stroke", "#4fa020").attr("stroke-width", 1.3);

var defs = svg.append("defs");
arrowsGnss.forEach(function(a, k) {
  defs.append("marker").attr("id", "ah" + k).attr("viewBox", "0 0 10 10")
    .attr("refX", 8).attr("refY", 5).attr("markerWidth", 5).attr("markerHeight", 5)
    .attr("orient", "auto")
    .append("path").attr("d", "M0,0L10,5L0,10z").attr("fill", a[4]);
  svg.append("line")
    .attr("x1", x(yd(a[0]))).attr("y1", y4(a[1]))
    .attr("x2", x(yd(a[2]))).attr("y2", y4(a[3]))
    .attr("stroke", a[4]).attr("stroke-width", 2.6)
    .attr("marker-end", "url(#ah" + k + ")");
});
frame(p4);
leftAxis(y4, gnssTicks);
xAxis(p4);
title("④GNSS連続観測 基線長", 1041, 320);
small("↑伸び(㎜)", 8, 1035, 15, {len: 74});

// legend ④
var lg4 = svg.append("g");
lg4.append("rect").attr("x", 99).attr("y", 1058).attr("width", 507).attr("height", 94)
  .attr("fill", "#fff").attr("stroke", "#000").attr("stroke-width", 1.2);
[["＋：【島西側】番屋ヶ峰―口永良部島（国）　基線長2,352m", "#0000ff", 446],
 ["○：【島西側＋古岳】番屋ヶ峰―古岳南山麓　基線長6,116m", "#e06a00", 446],
 ["○：【古岳近傍】七釜―ヘリポート　基線長4,981m", "#00a84a", 382]]
  .forEach(function(r, k) {
    lg4.append("text").attr("x", 118).attr("y", 1087 + k * 24.5).attr("font-size", 16)
      .attr("font-weight", "bold").attr("fill", r[1])
      .attr("textLength", r[2]).attr("lengthAdjust", "spacingAndGlyphs").text(r[0]);
  });
</script>
</body>
</html>
